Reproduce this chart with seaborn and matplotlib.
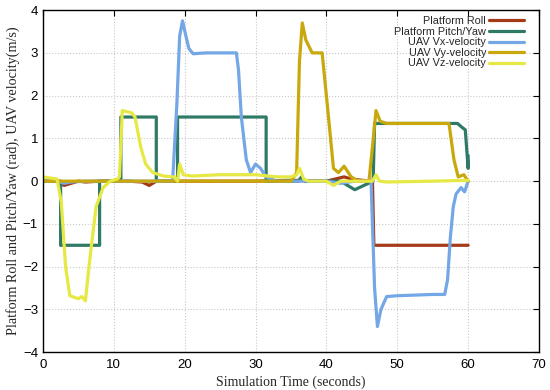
import matplotlib
matplotlib.use('Agg')
import matplotlib.pyplot as plt
import numpy as np
import pandas as pd
import seaborn as sns

# --- data ------------------------------------------------------------------
roll_t = [0, 2, 2.5, 3, 4, 5, 6, 8, 10, 12, 14, 15, 15.5, 16, 18, 20, 25, 30, 35, 40, 42.5, 43.5, 45, 46.5, 46.7, 60]
roll_v = [0, 0, -0.05, -0.1, -0.05, 0, -0.02, 0, 0, 0, -0.02, -0.1, -0.05, 0, 0, 0, 0, 0, 0.02, 0, 0.1, 0.05, 0.02, 0, -1.5, -1.5]

pitch_t = [0, 2.5, 2.5, 8, 8, 11, 11, 16, 16, 19, 19, 31.5, 31.5, 36, 36.5, 37, 42, 43, 44, 46.6, 46.8, 55, 58.5, 59.2, 59.6, 60, 60]
pitch_v = [0, 0, -1.5, -1.5, 0, 0, 1.5, 1.5, 0, 0, 1.5, 1.5, 0, 0, 0.1, 0, 0, -0.1, -0.2, 0, 1.35, 1.35, 1.35, 1.25, 1.2, 0.3, 0.6]

vx_t = [0, 2, 3, 4, 6, 10, 15, 18.3, 18.9, 19.3, 19.7, 20.1, 20.6, 21.2, 23, 25, 27.3, 27.6, 28.0, 28.7, 29.3, 30, 30.7,
        31.5, 33, 36, 40, 42, 44, 46.3, 46.8, 47.2, 47.7, 48.5, 50, 55, 56.7, 57.1, 57.5, 57.9, 58.3, 59, 59.5, 60]
vx_v = [0, 0, -0.05, -0.02, 0, 0, 0, 0, 1.8, 3.4, 3.75, 3.45, 3.1, 2.98, 3.0, 3.0, 3.0, 2.6, 1.5, 0.5, 0.2, 0.4, 0.3,
        0.1, 0, 0, 0, -0.05, 0, 0, -2.5, -3.4, -3.0, -2.7, -2.68, -2.65, -2.65, -2.3, -1.3, -0.6, -0.3, -0.15, -0.25, 0.0]

vy_t = [0, 5, 10, 15, 20, 25, 30, 35, 35.8, 36.2, 36.6, 37.1, 38, 39.4, 40, 41, 41.7, 42.5, 43.5, 44.5, 46, 46.5, 47,
        47.6, 48.5, 52, 57.3, 58, 58.6, 59.4, 60]
vy_v = [0, 0, 0, 0, 0, 0, 0, 0, 0.2, 2.8, 3.7, 3.3, 3.0, 3.0, 2.0, 0.3, 0.2, 0.35, 0.1, 0.0, 0, 0.8, 1.65,
        1.4, 1.35, 1.35, 1.35, 0.5, 0.1, 0.15, 0.0]

vz_t = [0, 2, 2.6, 3.2, 3.8, 4.5, 5, 5.5, 6, 6.5, 7.5, 8.5, 9.5, 10.5, 10.8, 11.2, 12.5, 13, 13.8, 14.5, 15.5, 17, 18.5,
        19, 19.3, 19.8, 21, 25, 30, 33, 35, 35.8, 36.2, 36.8, 37.5, 40, 41, 42, 45, 46.5, 47, 47.5, 48.5, 55, 60]
vz_v = [0.1, 0.05, -0.5, -2.0, -2.68, -2.72, -2.75, -2.7, -2.8, -2.0, -0.6, -0.15, 0, 0.05, 0.1, 1.65, 1.6, 1.5, 0.8, 0.4,
        0.2, 0.12, 0.1, 0.0, 0.4, 0.15, 0.12, 0.15, 0.15, 0.1, 0.1, 0.15, 0.3, 0.05, 0.0, 0.0, -0.1, 0.0, 0.0, 0.0, 0.15,
        0.0, -0.02, 0.0, 0.02]

series_names = ['Platform Roll', 'Platform Pitch/Yaw', 'UAV Vx-velocity', 'UAV Vy-velocity', 'UAV Vz-velocity']
series_colors = ['#a53a18', '#2f7a66', '#74a7e6', '#c9a80c', '#e6e844']

x_ticks = list(range(0, 71, 10))
y_ticks = list(range(-4, 5))

# ---------------------------------------------------------------------------
sns.set_theme(style='white')
plt.rcParams['font.family'] = ['Liberation Sans', 'DejaVu Sans']

frames = []
for name, t, v in zip(series_names,
                      [roll_t, pitch_t, vx_t, vy_t, vz_t],
                      [roll_v, pitch_v, vx_v, vy_v, vz_v]):
    frames.append(pd.DataFrame({'t': t, 'v': v, 'series': name, 'order': np.arange(len(t))}))
df = pd.concat(frames, ignore_index=True)

fig = plt.figure(figsize=(5.5, 3.9), dpi=100)
ax = fig.add_axes([0.078, 0.097, 0.902, 0.877])

sns.lineplot(data=df, x='t', y='v', hue='series', hue_order=series_names,
             palette=dict(zip(series_names, series_colors)),
             estimator=None, sort=False, units='series', lw=2.3, ax=ax)

ax.set_xlim(0, 70)
ax.set_ylim(-4, 4)
ax.set_xticks(x_ticks)
ax.set_yticks(y_ticks)
ax.tick_params(direction='in', length=4, labelsize=9.5, top=True, right=True, colors='black', width=0.8)
ax.tick_params(axis='x', pad=5)
ax.grid(True, color='#c8c8c8', linestyle=':', linewidth=0.8)
for sp in ax.spines.values():
    sp.set_color('black')
    sp.set_linewidth(1.0)

serif = ['Liberation Serif', 'DejaVu Serif']
ax.set_xlabel('Simulation Time (seconds)', family=serif, fontsize=10, labelpad=3)
ax.set_ylabel('Platform Roll and Pitch/Yaw (rad), UAV velocity(m/s)', family=serif, fontsize=10.2, labelpad=2)

leg = ax.legend(loc='upper right', bbox_to_anchor=(0.994, 1.017), frameon=False, markerfirst=False, fontsize=7.8,
                handlelength=3.2, labelspacing=0.05, borderaxespad=0.9, borderpad=0.2, handletextpad=0.3)
for txt in leg.get_texts():
    txt.set_ha('right')
leg._legend_box.align = 'right'

fig.savefig('out.png', dpi=100)
